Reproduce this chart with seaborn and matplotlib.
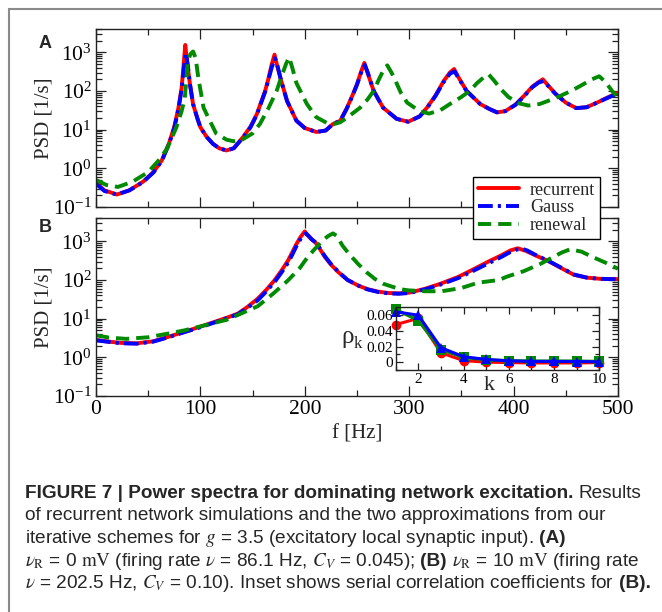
import numpy as np
import pandas as pd
import matplotlib
matplotlib.use("Agg")
import matplotlib.pyplot as plt
import seaborn as sns
from matplotlib.lines import Line2D
from matplotlib.ticker import (LogLocator, LogFormatterMathtext, MultipleLocator,
                               NullFormatter, FixedLocator, FixedFormatter)

# ---------------- data ----------------
# Panel A  (f in Hz, PSD in 1/s)
a_rec_f = [0, 8, 20, 32, 45, 55, 63, 70, 75, 79, 82, 84, 85.5, 87.5, 90, 93, 97, 100, 106, 112,
           118, 125, 132, 141, 148, 154, 158, 162, 165, 168, 171, 173.5, 177, 183, 192, 200, 211,
           220, 227, 234, 240, 245, 250, 254, 257, 260, 266, 275, 288, 299, 310, 317, 325, 333,
           339, 343, 347, 355, 368, 377, 384, 392, 402, 410, 418, 424, 428, 432, 440, 450, 460,
           470, 480, 490, 500]
a_rec_psd = [0.42, 0.27, 0.21, 0.27, 0.45, 0.8, 1.6, 4.5, 12, 37, 120, 500, 1550, 500, 150, 45, 20,
             11.5, 6.5, 4.3, 3.3, 2.9, 3.3, 6.5, 12, 25, 50, 100, 200, 450, 870, 450, 200, 55, 17,
             11, 8.7, 9.5, 14, 17, 35, 70, 150, 320, 530, 300, 100, 37, 19, 16, 22, 37, 75, 180,
             300, 370, 230, 100, 46, 34, 28, 30, 45, 75, 130, 170, 200, 150, 85, 50, 36, 38, 50,
             68, 90]
a_gauss_f = [0, 8, 20, 32, 45, 55, 63, 70, 75, 79, 82, 84.3, 86.2, 88, 90, 93, 97, 100, 106, 112,
             118, 125, 132, 141, 148, 154, 158, 162, 165, 168.5, 171.5, 174, 177, 183, 192, 200, 211,
             220, 227, 234, 240, 245, 250, 254, 257.5, 260.5, 266, 275, 288, 299, 310, 317, 325, 333,
             339, 343.5, 347, 355, 368, 377, 384, 392, 402, 410, 418, 424, 428.5, 432, 440, 450, 460,
             470, 480, 490, 500]
a_gauss_psd = [0.40, 0.26, 0.21, 0.27, 0.44, 0.78, 1.55, 4.3, 11, 34, 110, 420, 950, 450, 150, 46,
               20, 11.5, 6.5, 4.3, 3.3, 2.9, 3.3, 6.3, 11.5, 24, 48, 95, 190, 420, 700, 430, 200, 55,
               17, 11, 8.7, 9.5, 14, 17, 34, 68, 145, 300, 470, 290, 100, 37, 19, 16, 22, 36, 73,
               170, 280, 320, 220, 100, 46, 34, 28, 30, 44, 73, 125, 165, 180, 145, 85, 50, 36, 38,
               50, 66, 88]
a_ren_f = [0, 10, 21, 35, 50, 60, 68, 77, 82, 85, 88, 90.5, 93, 95.5, 98, 103, 109, 115, 125, 132,
           140, 150, 157, 165, 173, 178, 182, 185, 188, 192, 202, 211, 221, 228, 234, 243, 253, 260,
           266, 271, 275, 279, 283, 287, 292, 298, 310, 319, 330, 339, 350, 358, 365, 371, 376, 381,
           388, 395, 405, 414, 425, 440, 455, 465, 475, 482, 488, 495, 500]
a_ren_psd = [0.5, 0.37, 0.33, 0.45, 0.8, 1.6, 3.2, 11.5, 30, 63, 590, 900, 1050, 700, 220, 37, 17,
             8, 5.5, 5, 5.5, 8, 14, 35, 100, 250, 500, 740, 400, 160, 46, 21, 15, 14, 15.5, 23, 37,
             60, 100, 200, 330, 460, 300, 180, 90, 50, 30, 26, 32, 46, 70, 100, 160, 220, 270, 190,
             110, 70, 48, 42, 46, 65, 100, 140, 200, 240, 170, 95, 68]

# Panel B
b_rec_f = [0, 15, 25, 39, 55, 71, 85, 100, 115, 125, 136, 145, 155, 163, 171, 178, 184, 188, 192,
           196, 200, 203, 206, 210, 215, 219, 225, 232, 241, 251, 260, 270, 280, 290, 300, 315, 330,
           347, 360, 376, 388, 397, 404, 412, 422, 434, 446, 458, 470, 483, 500]
b_rec_psd = [2.8, 2.5, 2.35, 2.3, 2.6, 3.5, 4.6, 6.2, 8.5, 10.5, 13.5, 20, 33, 55, 98, 180, 320,
             520, 850, 1300, 1800, 1400, 1150, 950, 600, 400, 250, 160, 100, 72, 58, 50, 46, 45, 47,
             59, 80, 120, 180, 300, 430, 580, 660, 560, 420, 300, 200, 135, 115, 107, 105]
b_gauss_f = [0, 15, 25, 39, 55, 71, 85, 100, 115, 125, 136, 145, 155, 163, 171, 178, 184, 188, 192,
             196, 201, 204, 207, 211, 215, 219, 225, 232, 241, 251, 260, 270, 280, 290, 300, 315,
             330, 347, 360, 376, 388, 397, 403, 408, 413, 422, 434, 446, 458, 470, 483, 500]
b_gauss_psd = [2.75, 2.45, 2.3, 2.25, 2.55, 3.4, 4.5, 6.0, 8.2, 10.2, 13, 19, 30, 50, 88, 160, 280,
               450, 750, 1150, 1600, 1350, 1100, 900, 620, 420, 260, 165, 100, 72, 57, 49, 45, 44,
               46, 57, 76, 112, 165, 270, 390, 530, 610, 640, 580, 430, 305, 205, 138, 115, 107, 104]
b_ren_f = [0, 12, 29, 50, 71, 85, 100, 115, 125, 136, 155, 170, 184, 195, 203, 210, 216, 222, 227,
           231, 236, 243, 251, 259, 267, 275, 283, 291, 299, 315, 331, 350, 366, 386, 394, 410, 426,
           440, 446, 454, 465, 475, 488, 500]
b_ren_psd = [3.7, 3.25, 3.0, 3.3, 4.2, 5.0, 6.3, 8.0, 9.3, 12.5, 21, 45, 98, 200, 400, 650, 980,
             1350, 1600, 1350, 780, 450, 260, 160, 107, 80, 68, 58, 54, 51, 51, 62, 85, 100, 123,
             170, 263, 420, 510, 620, 540, 400, 280, 195]

# Inset: serial correlation coefficients (panel B)
lag_k = [1, 2, 3, 4, 5, 6, 7, 8, 9, 10]
rho_rec = [0.048, 0.056, 0.012, 0.002, 0.0, -0.0005, -0.001, -0.001, -0.001, -0.0005]
rho_ren = [0.0675, 0.053, 0.016, 0.006, 0.003, 0.002, 0.0015, 0.0015, 0.0015, 0.001]
rho_gauss = [0.0645, 0.060, 0.0185, 0.007, 0.0035, 0.0017, 0.001, 0.001, 0.0008, 0.0005]

series_names = ["recurrent", "Gauss", "renewal"]
series_colors = ["#ff0000", "#0000ff", "#008a00"]
series_styles = ["-", (0, (3.8, 1.3, 0.8, 1.3)), (0, (3.4, 1.8))]

x_ticks = [0, 100, 200, 300, 400, 500]

# ---------------- style ----------------
sns.set_style("ticks")
plt.rcParams["font.family"] = ["Liberation Serif", "DejaVu Serif"]
plt.rcParams["mathtext.fontset"] = "stix"

W, H = 662, 612
fig = plt.figure(figsize=(W / 100, H / 100), dpi=100)
fig.patch.set_facecolor("white")


def px_axes(x0, y0, x1, y1):
    # figure-pixel box (top-left origin) -> axes
    return fig.add_axes([x0 / W, 1 - y1 / H, (x1 - x0) / W, (y1 - y0) / H])


ax_a = px_axes(96, 29, 618, 207)
ax_b = px_axes(96, 218, 618, 396)


def draw_panel(ax, curves, show_xlabels):
    for (f, p), name, col, ls in zip(curves, series_names, series_colors, series_styles):
        sns.lineplot(x=f, y=p, ax=ax, color=col, linestyle=ls, lw=2.8,
                     sort=False, estimator=None)
    if ax.get_legend() is not None:
        ax.get_legend().remove()
    ax.set_yscale("log")
    ax.set_xlim(0, 500)
    ax.set_ylim(0.1, 4000)
    ax.xaxis.set_major_locator(FixedLocator(x_ticks))
    ax.xaxis.set_minor_locator(MultipleLocator(50))
    ax.yaxis.set_major_locator(LogLocator(base=10, numticks=10))
    ax.yaxis.set_minor_locator(LogLocator(base=10, subs=np.arange(2, 10), numticks=20))
    ax.yaxis.set_major_formatter(LogFormatterMathtext())
    ax.yaxis.set_minor_formatter(NullFormatter())
    ax.tick_params(which="both", direction="in", top=True, right=True, width=0.9,
                   colors="#222222", labelcolor="black")
    ax.tick_params(which="major", length=7, labelsize=15.5, pad=3)
    ax.tick_params(which="minor", length=4)
    if not show_xlabels:
        ax.tick_params(axis="x", labelbottom=False)
    for s in ax.spines.values():
        s.set_linewidth(1.0)
        s.set_color("#222222")
    ax.set_ylabel("PSD [1/s]", fontsize=15)
    ax.yaxis.set_label_coords(-0.082, 0.5)
    ax.set_xlabel("")


draw_panel(ax_a, [(a_rec_f, a_rec_psd), (a_gauss_f, a_gauss_psd), (a_ren_f, a_ren_psd)], False)
draw_panel(ax_b, [(b_rec_f, b_rec_psd), (b_gauss_f, b_gauss_psd), (b_ren_f, b_ren_psd)], True)
ax_b.set_xlabel("f [Hz]", fontsize=15)
ax_b.xaxis.set_label_coords(0.5, -0.16)

fig.text(45 / W, 1 - 44 / H, "A", family=["Liberation Sans", "DejaVu Sans"], fontweight="bold",
         fontsize=13, ha="center", va="center")
fig.text(45 / W, 1 - 228 / H, "B", family=["Liberation Sans", "DejaVu Sans"], fontweight="bold",
         fontsize=13, ha="center", va="center")

# legend (sits across both panels)
handles = [Line2D([], [], color=c, linestyle=ls, lw=2.8) for c, ls in zip(series_colors, series_styles)]
leg = fig.legend(handles, series_names, loc="upper left", bbox_to_anchor=(473 / W, 1 - 177 / H),
                 bbox_transform=fig.transFigure, fontsize=13, frameon=True, fancybox=False,
                 edgecolor="black", framealpha=1, borderpad=0.25, labelspacing=0.05,
                 handlelength=2.3, handletextpad=0.6, borderaxespad=0)
leg.get_frame().set_linewidth(1.0)

# ---------------- inset ----------------
ax_in = px_axes(395.7, 307.4, 599.3, 370)
for rho, col, mk in [(rho_rec, "#ff0000", "o"), (rho_ren, "#008a00", "s"), (rho_gauss, "#0000ff", "^")]:
    sns.lineplot(x=lag_k, y=rho, ax=ax_in, color=col, lw=2.2, marker=mk, markersize=7,
                 markeredgewidth=0, sort=False, estimator=None, clip_on=False)
if ax_in.get_legend() is not None:
    ax_in.get_legend().remove()
ax_in.set_xlim(1, 10)
ax_in.set_ylim(-0.01, 0.07)
ax_in.xaxis.set_major_locator(FixedLocator([2, 4, 6, 8, 10]))
ax_in.xaxis.set_minor_locator(MultipleLocator(1))
ax_in.yaxis.set_major_locator(FixedLocator([0, 0.02, 0.04, 0.06]))
ax_in.yaxis.set_major_formatter(FixedFormatter(["0", "0.02", "0.04", "0.06"]))
ax_in.yaxis.set_minor_locator(MultipleLocator(0.01))
ax_in.tick_params(which="both", direction="in", top=True, right=True, width=0.9, colors="#222222",
                  labelcolor="black")
ax_in.tick_params(which="major", length=5, labelsize=11, pad=2)
ax_in.tick_params(which="minor", length=3)
for s in ax_in.spines.values():
    s.set_linewidth(1.0)
    s.set_color("#222222")
ax_in.set_xlabel("")
ax_in.set_ylabel("")
fig.text(348 / W, 1 - 337 / H, "ρ", fontsize=18, ha="center", va="center")
fig.text(358 / W, 1 - 344 / H, "k", fontsize=12, ha="center", va="center")
fig.text(489 / W, 1 - 386 / H, "k", fontsize=16, ha="center", va="center")

# ---------------- frame + caption ----------------
fig.add_artist(Line2D([9 / W, 9 / W], [0, 1 - 9 / H], transform=fig.transFigure, color="#8a8a8a", lw=1.5))
fig.add_artist(Line2D([9 / W, 1], [1 - 9 / H, 1 - 9 / H], transform=fig.transFigure, color="#8a8a8a", lw=1.5))

cap_font = ["Liberation Sans", "DejaVu Sans"]
caption = [
    [("FIGURE 7 | Power spectra for dominating network excitation.", "bold"), ("Results", "normal")],
    [("of recurrent network simulations and the two approximations from our", "normal")],
    [("iterative schemes for $g$ = 3.5 (excitatory local synaptic input).", "normal"), ("(A)", "bold")],
    [(r"$\nu_\mathrm{R}$ = 0 $\mathrm{mV}$ (firing rate $\nu$ = 86.1 Hz, $C_V$ = 0.045);", "normal"),
     ("(B)", "bold"), (r"$\nu_\mathrm{R}$ = 10 $\mathrm{mV}$ (firing rate", "normal")],
    [(r"$\nu$ = 202.5 Hz, $C_V$ = 0.10). Inset shows serial correlation coefficients for", "normal"),
     ("(B).", "bold")],
]

renderer = fig.canvas.get_renderer()


def run_width(txt, weight, size):
    t = fig.text(0, 0, txt, fontsize=size, fontweight=weight, family=cap_font)
    w = t.get_window_extent(renderer=renderer).width
    t.remove()
    return w


def space_width(size):
    return run_width("n n", "normal", size) - run_width("nn", "normal", size)


# fit the font size so that the first line spans the caption width
probe = 12.0
w1 = sum(run_width(t, wt, probe) for t, wt in caption[0]) + space_width(probe)
cap_size = probe * 616 / w1

x_left = 25
for i, line in enumerate(caption):
    y = 498 + 22.5 * i
    x = x_left
    for j, (txt, wt) in enumerate(line):
        if j > 0:
            x += space_width(cap_size)
        fig.text(x / W, 1 - y / H, txt, fontsize=cap_size, fontweight=wt, family=cap_font,
                 ha="left", va="baseline")
        x += run_width(txt, wt, cap_size)

fig.savefig("out.png", dpi=100, facecolor="white")
